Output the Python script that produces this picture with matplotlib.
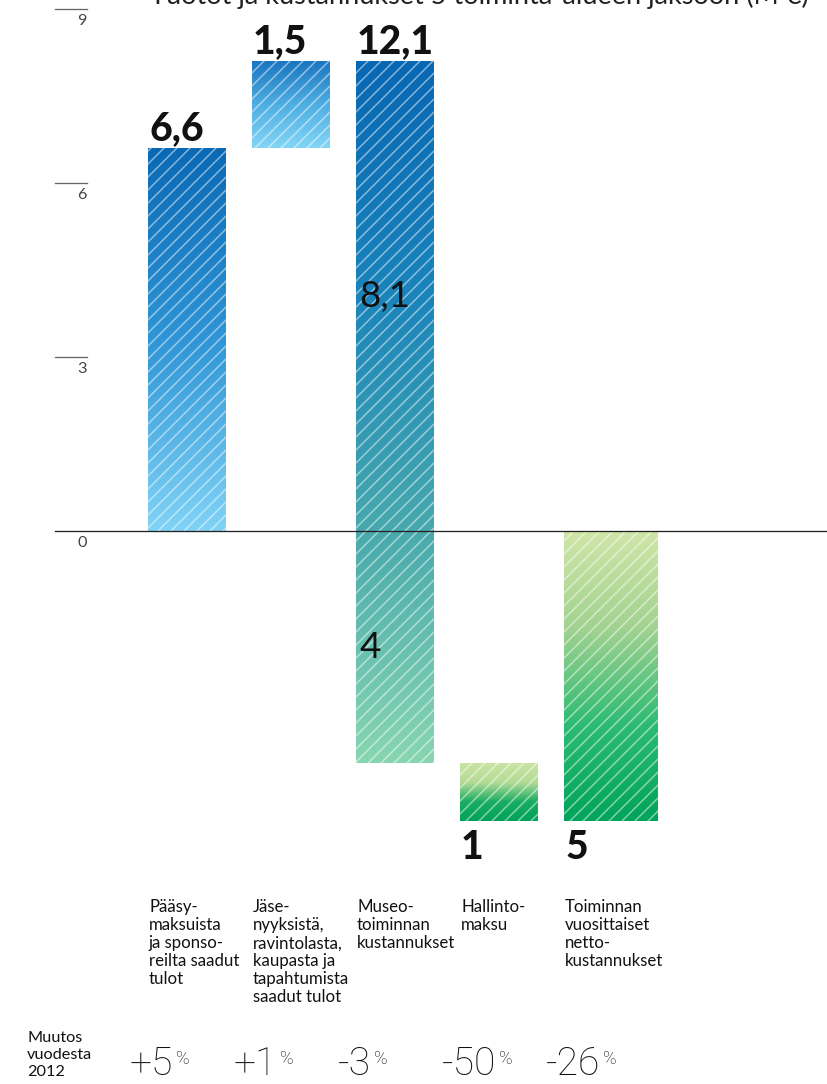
import numpy as np
import matplotlib
matplotlib.use("Agg")
import matplotlib.pyplot as plt
from matplotlib.colors import LinearSegmentedColormap

# tulot ja kustannukset, milj. euroa
categories = [
    "Pääsy-\nmaksuista\nja sponso-\nreilta saadut\ntulot",
    "Jäse-\nnyyksistä,\nravintolasta,\nkaupasta ja\ntapahtumista\nsaadut tulot",
    "Museo-\ntoiminnan\nkustannukset",
    "Hallinto-\nmaksu",
    "Toiminnan\nvuosittaiset\nnetto-\nkustannukset",
]
amounts = [6.6, 1.5, -12.1, -1.0]
net_total = -5.0
museum_split = [8.1, -4.0]
changes = ["+5", "+1", "-3", "-50", "-26"]
yticks = [0, 3, 6, 9]

bar_colors = [
    ["#0a69b4", "#2f95d6", "#80d3f6"],
    ["#1a76c0", "#4eaee2", "#82d5f6"],
    ["#0867b3", "#1a84bb", "#47a9ad", "#88d6b1"],
    ["#cae4a4", "#b4db96", "#19ad62", "#00a259"],
    ["#cfe6a7", "#a2d290", "#2dbb73", "#00a45a"],
]

plt.rcParams["font.family"] = ["Lato", "DejaVu Sans"]
plt.rcParams["hatch.linewidth"] = 1.4

DPI = 78
fig = plt.figure(figsize=(827 / DPI, 1084 / DPI), dpi=DPI)
ax = fig.add_axes([0, 0, 1, 1])
ax.set_axis_off()

bar_w = 0.75
total_w = 0.9
x = np.arange(len(categories))
left = x - bar_w / 2

ends = np.cumsum(amounts)
starts = np.concatenate([[0], ends[:-1]])
bottoms = list(np.minimum(starts, ends)) + [min(0, net_total)]
tops = list(np.maximum(starts, ends)) + [max(0, net_total)]
widths = [bar_w] * len(amounts) + [total_w]
labels = [f"{abs(v):g}".replace(".", ",") for v in amounts + [net_total]]

grad = np.linspace(0, 1, 256).reshape(-1, 1)
for i in range(len(categories)):
    h = tops[i] - bottoms[i]
    bar = ax.bar(left[i], h, bottom=bottoms[i], width=widths[i], align="edge",
                 facecolor="none", edgecolor=(1, 1, 1, 0.5), hatch="//",
                 linewidth=0, zorder=3)[0]
    cmap = LinearSegmentedColormap.from_list(f"g{i}", bar_colors[i])
    im = ax.imshow(grad, cmap=cmap, aspect="auto", origin="upper",
                   extent=(left[i], left[i] + widths[i], bottoms[i], tops[i]),
                   zorder=2, interpolation="bilinear")
    im.set_clip_path(bar)

    if tops[i] > 0:
        ax.annotate(labels[i], (left[i], tops[i]), xytext=(1, 7),
                    textcoords="offset points", ha="left", va="baseline",
                    fontsize=36, fontweight="black", color="#111111")
    else:
        ax.annotate(labels[i], (left[i], bottoms[i]), xytext=(1, -7),
                    textcoords="offset points", ha="left", va="top",
                    fontsize=36, fontweight="black", color="#111111")

    ax.annotate(categories[i], (left[i], -6.35), xytext=(1, 0),
                textcoords="offset points", ha="left", va="top",
                fontsize=15.5, fontweight="normal", color="#111111",
                linespacing=1.15)

    t = ax.annotate(changes[i], (left[i], -9.38), xytext=(-17, 0),
                    textcoords="offset points", ha="left", va="baseline",
                    fontsize=36, family=["Roboto", "DejaVu Sans"],
                    fontweight="light", color="#111111")
    ax.annotate("%", xy=(1, 1), xycoords=t, xytext=(3, -4),
                textcoords="offset points", ha="left", va="top",
                fontsize=17, family=["Roboto", "DejaVu Sans"],
                fontweight="light", color="#111111")

# museon jako nollan ylä- ja alapuolelle
for seg in museum_split:
    ax.annotate(f"{abs(seg):g}".replace(".", ","), (left[2], seg / 2),
                xytext=(3, 0), textcoords="offset points", ha="left",
                va="center", fontsize=34, fontweight="normal",
                color="#111111", zorder=5)

# y-akseli
ytr = ax.get_yaxis_transform()
for v in yticks:
    if v == 0:
        ax.plot([0.0665, 1.0], [0, 0], transform=ytr, color="#222222",
                lw=1.2, zorder=4)
    else:
        ax.plot([0.0665, 0.105], [v, v], transform=ytr, color="#666666",
                lw=1.2)
    ax.annotate(str(v), (0.105, v), xycoords=ytr, xytext=(0, -5),
                textcoords="offset points", ha="right", va="top",
                fontsize=15, fontweight="normal", color="#444444")

fig.text(27 / 827, 1 - 1076 / 1084, "Muutos\nvuodesta\n2012", ha="left",
         va="baseline", fontsize=15, fontweight="normal", color="#111111",
         linespacing=1.25)

fig.text(150 / 827, 1 - 4 / 1084,
         "Tuotot ja kustannukset 5 toiminta-alueen jaksoon (M €)",
         ha="left", va="baseline", fontsize=25, fontweight="normal",
         color="#222222")

ax.set_xlim(-187 / 104, (827 - 187) / 104)
ax.set_ylim(-(1084 - 531) / 58, 531 / 58)

fig.savefig("out.png", dpi=DPI)
